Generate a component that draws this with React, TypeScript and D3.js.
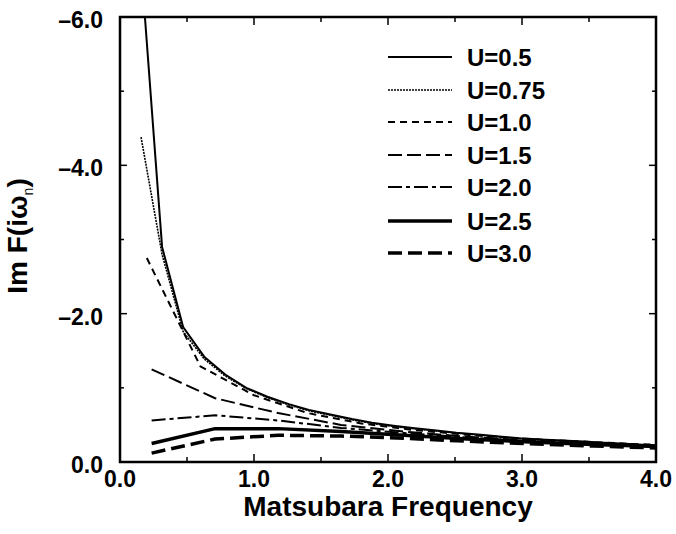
import React from "react";
import * as d3 from "d3";

// Matsubara frequency grids
const xLow = [0.157, 0.314, 0.471, 0.628, 0.785, 0.942, 1.1, 1.26, 1.41, 1.57, 1.73, 1.88, 2.04, 2.2, 2.36, 2.51, 2.67, 2.83, 2.98, 3.14, 3.3, 3.46, 3.61, 3.77, 3.93, 4.08];
const xMid = [0.2, 0.6, 1.0, 1.4, 1.8, 2.2, 2.6, 3.0, 3.4, 3.8, 4.2];
const xHigh = [0.236, 0.71, 1.18, 1.65, 2.12, 2.59, 3.06, 3.53, 4.0];

// -Im F(i w_n) values
const u05 = [6.7, 2.9, 1.82, 1.42, 1.18, 1.0, 0.88, 0.78, 0.7, 0.64, 0.58, 0.53, 0.49, 0.455, 0.425, 0.395, 0.37, 0.345, 0.32, 0.305, 0.29, 0.275, 0.26, 0.245, 0.23, 0.22];
const u075 = [4.38, 2.8, 1.76, 1.39, 1.16, 0.99, 0.87, 0.77, 0.69, 0.63, 0.57, 0.52, 0.48, 0.447, 0.417, 0.39, 0.365, 0.34, 0.317, 0.3, 0.285, 0.27, 0.255, 0.24, 0.228, 0.218];
const u10 = [2.75, 1.29, 0.9, 0.66, 0.52, 0.43, 0.365, 0.315, 0.28, 0.245, 0.22];
const u15 = [1.25, 0.86, 0.66, 0.5, 0.41, 0.34, 0.29, 0.25, 0.22];
const u20 = [0.56, 0.63, 0.56, 0.46, 0.39, 0.33, 0.28, 0.245, 0.215];
const u25 = [0.25, 0.45, 0.45, 0.41, 0.36, 0.31, 0.27, 0.235, 0.21];
const u30 = [0.12, 0.31, 0.36, 0.35, 0.32, 0.28, 0.245, 0.215, 0.19];

const labels = ["U=0.5", "U=0.75", "U=1.0", "U=1.5", "U=2.0", "U=2.5", "U=3.0"];
const xTicks = [0, 1, 2, 3, 4];
const xMinor = [0.5, 1.5, 2.5, 3.5];
const yTicks = [0, 2, 4, 6];
const yMinor = [1, 3, 5];
const xTickLabels = ["0.0", "1.0", "2.0", "3.0", "4.0"];
const yTickLabels = ["0.0", "\u20132.0", "\u20134.0", "\u20136.0"];

const series = [
  { xs: xLow, ys: u05, w: 2, dash: "none" },
  { xs: xLow, ys: u075, w: 1.6, dash: "2,1" },
  { xs: xMid, ys: u10, w: 2, dash: "7,5" },
  { xs: xHigh, ys: u15, w: 2, dash: "14,5" },
  { xs: xHigh, ys: u20, w: 2, dash: "14,4,4,4" },
  { xs: xHigh, ys: u25, w: 3.5, dash: "none" },
  { xs: xHigh, ys: u30, w: 3.5, dash: "14,6" },
];

const L = 120, R = 656, T = 17, B = 462;
const FONT = "'Liberation Sans', Arial, Helvetica, sans-serif";

export default function App() {
  const x = d3.scaleLinear().domain([0, 4]).range([L, R]);
  const y = d3.scaleLinear().domain([0, 6]).range([B, T]);
  const line = d3.line<[number, number]>().x((d) => x(d[0])).y((d) => y(d[1]));

  const legY = [57, 90, 122, 155, 187, 221, 253];

  return (
    <svg width={676} height={534} style={{ position: "absolute", left: 0, top: 0, background: "#fff" }} fontFamily={FONT}>
      <defs>
        <clipPath id="plot">
          <rect x={L} y={T} width={R - L} height={B - T} />
        </clipPath>
      </defs>
      <rect x={0} y={0} width={676} height={534} fill="#fff" />
      <g clipPath="url(#plot)" fill="none" stroke="#000" strokeLinejoin="round">
        {series.map((s, i) => (
          <path
            key={i}
            d={line(s.xs.map((v, j) => [v, s.ys[j]] as [number, number])) || ""}
            strokeWidth={s.w}
            strokeDasharray={s.dash}
          />
        ))}
      </g>
      {/* ticks */}
      <g stroke="#000" strokeWidth={1.5}>
        {xTicks.map((t) => (
          <g key={"xt" + t}>
            <line x1={x(t)} x2={x(t)} y1={B} y2={B - 8} />
            <line x1={x(t)} x2={x(t)} y1={T} y2={T + 8} />
          </g>
        ))}
        {xMinor.map((t) => (
          <g key={"xm" + t}>
            <line x1={x(t)} x2={x(t)} y1={B} y2={B - 5} />
            <line x1={x(t)} x2={x(t)} y1={T} y2={T + 5} />
          </g>
        ))}
        {yTicks.map((t) => (
          <g key={"yt" + t}>
            <line x1={L} x2={L + 7} y1={y(t)} y2={y(t)} />
            <line x1={R} x2={R - 7} y1={y(t)} y2={y(t)} />
          </g>
        ))}
        {yMinor.map((t) => (
          <g key={"ym" + t}>
            <line x1={L} x2={L + 4} y1={y(t)} y2={y(t)} />
            <line x1={R} x2={R - 4} y1={y(t)} y2={y(t)} />
          </g>
        ))}
      </g>
      <rect x={L} y={T} width={R - L} height={B - T} fill="none" stroke="#000" strokeWidth={2.5} />
      {/* tick labels */}
      <g fontSize={23} fontWeight="bold" fill="#000">
        {xTicks.map((t, i) => (
          <text key={"xl" + t} x={x(t)} y={487} textAnchor="middle">
            {xTickLabels[i]}
          </text>
        ))}
        {yTicks.map((t, i) => (
          <text key={"yl" + t} x={103} y={y(t) + 11} textAnchor="end">
            {yTickLabels[i]}
          </text>
        ))}
      </g>
      {/* axis titles */}
      <text x={388} y={516} textAnchor="middle" fontSize={28} fontWeight="bold">
        Matsubara Frequency
      </text>
      <text transform="translate(27,236) rotate(-90)" textAnchor="middle" fontSize={28} fontWeight="bold">
        Im F(i{"\u03c9"}
        <tspan fontSize={14} fontWeight="normal" dy={6}>n</tspan>
        <tspan dy={-6}>)</tspan>
      </text>
      {/* legend */}
      {series.map((s, i) => (
        <g key={"lg" + i}>
          <line x1={388} x2={452} y1={legY[i]} y2={legY[i]} stroke="#000" strokeWidth={s.w} strokeDasharray={s.dash} />
          <text x={467} y={legY[i] + 8.5} fontSize={24} fontWeight="bold">
            {labels[i]}
          </text>
        </g>
      ))}
    </svg>
  );
}
